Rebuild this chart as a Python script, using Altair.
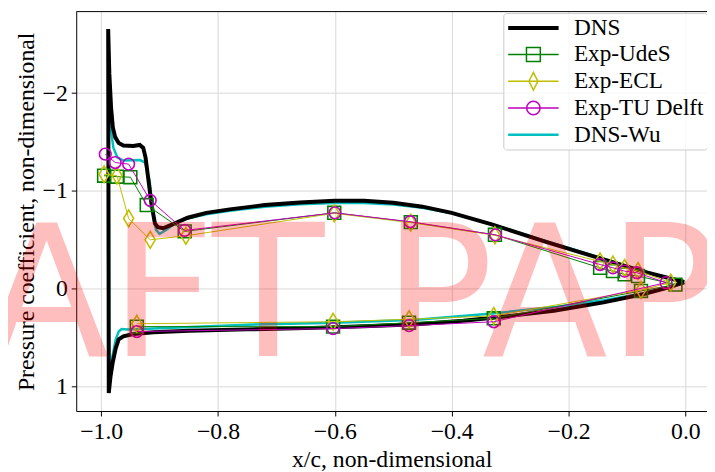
import altair as alt
import pandas as pd

SERIF = "Liberation Serif"

series_names = ["DNS", "Exp-UdeS", "Exp-ECL", "Exp-TU Delft", "DNS-Wu"]
series_colors = ["#000000", "#008000", "#bfbf00", "#bf00bf", "#00bfbf"]
legend_widths = [4, 1.5, 1.5, 1.5, 2.5]
legend_paths = [
    "M-2.55,0H2.55",
    "M-2.55,0H2.55M-0.7,-0.7H0.7V0.7H-0.7Z",
    "M-2.55,0H2.55M0,-0.9L0.45,0L0,0.9L-0.45,0Z",
    "M-2.55,0H2.55M0.68,0A0.68,0.68,0,1,1,-0.68,0A0.68,0.68,0,1,1,0.68,0Z",
    "M-2.55,0H2.55",
]

# DNS: closed loop, lower surface TE->LE, then upper surface LE->TE
dns_x = [-0.002, -0.03, -0.073, -0.14, -0.225, -0.30, -0.38, -0.46, -0.55, -0.65, -0.75, -0.85,
         -0.91, -0.945, -0.962, -0.970, -0.975, -0.980, -0.984, -0.987,
         -0.988, -0.986, -0.983, -0.980, -0.976, -0.970, -0.962, -0.945, -0.934, -0.928,
         -0.924, -0.919, -0.914, -0.908, -0.903, -0.894, -0.874, -0.852, -0.82, -0.78,
         -0.72, -0.66, -0.60, -0.55, -0.50, -0.45, -0.40, -0.33, -0.24, -0.14, -0.073, -0.002]
dns_y = [-0.064, -0.01, 0.058, 0.142, 0.227, 0.28, 0.33, 0.365, 0.385, 0.405, 0.418, 0.432,
         0.447, 0.465, 0.49, 0.52, 0.61, 0.75, 0.90, 1.07,
         -2.656, -2.2, -1.85, -1.65, -1.55, -1.49, -1.465, -1.46, -1.47, -1.44,
         -1.34, -1.105, -0.87, -0.667, -0.627, -0.617, -0.667, -0.725, -0.775, -0.81,
         -0.855, -0.88, -0.898, -0.898, -0.878, -0.838, -0.775, -0.655, -0.48, -0.298, -0.175, -0.067]

# DNS-Wu: closed loop, same ordering
wu_x = [-0.002, -0.073, -0.14, -0.225, -0.33, -0.46, -0.60, -0.75, -0.91, -0.955, -0.965,
        -0.970, -0.975, -0.981, -0.986,
        -0.987, -0.983, -0.979, -0.972, -0.962, -0.933, -0.925, -0.917, -0.914, -0.911,
        -0.906, -0.900, -0.889, -0.872, -0.85, -0.82, -0.78, -0.72, -0.66, -0.60, -0.55,
        -0.50, -0.45, -0.40, -0.33, -0.24, -0.14, -0.073, -0.002]
wu_y = [-0.06, 0.05, 0.12, 0.19, 0.255, 0.32, 0.35, 0.37, 0.41, 0.42, 0.415,
        0.44, 0.52, 0.70, 0.90,
        -1.92, -1.61, -1.44, -1.34, -1.31, -1.315, -1.29, -1.105, -0.94, -0.734,
        -0.60, -0.56, -0.60, -0.674, -0.72, -0.76, -0.795, -0.838, -0.862, -0.876, -0.876,
        -0.86, -0.826, -0.77, -0.655, -0.49, -0.305, -0.18, -0.065]

udes_x = [-0.995, -0.973, -0.950, -0.922, -0.857, -0.601, -0.470, -0.326, -0.146, -0.124,
          -0.104, -0.081, -0.017, -0.076, -0.328, -0.473, -0.603, -0.939]
udes_y = [-1.155, -1.145, -1.14, -0.855, -0.585, -0.775, -0.68, -0.55, -0.212, -0.178,
          -0.145, -0.128, -0.04, 0.025, 0.305, 0.35, 0.39, 0.39]

ecl_x = [-0.995, -0.973, -0.953, -0.916, -0.855, -0.601, -0.470, -0.326, -0.146, -0.124,
         -0.104, -0.081, -0.025, -0.076, -0.328, -0.473, -0.603, -0.939]
ecl_y = [-1.17, -1.156, -0.718, -0.499, -0.54, -0.77, -0.675, -0.545, -0.277, -0.246,
         -0.21, -0.18, -0.06, 0.015, 0.28, 0.315, 0.34, 0.36]

tud_x = [-0.993, -0.976, -0.953, -0.916, -0.857, -0.600, -0.471, -0.325, -0.146, -0.124,
         -0.104, -0.083, -0.033, -0.328, -0.473, -0.603, -0.939]
tud_y = [-1.376, -1.29, -1.274, -0.903, -0.595, -0.775, -0.684, -0.549, -0.246, -0.212,
         -0.178, -0.162, -0.06, 0.34, 0.38, 0.41, 0.44]

x_ticks = [-1.0, -0.8, -0.6, -0.4, -0.2, 0.0]
y_ticks = [-2, -1, 0, 1]
X_DOMAIN = [-1.0427, 0.0370]
Y_DOMAIN = [-2.835, 1.254]
watermark = ["DRAFT PAPER"]


def frame(xs, ys):
    return pd.DataFrame({"x": xs, "y": ys, "i": list(range(len(xs)))})


x_enc = alt.X("x:Q", scale=alt.Scale(domain=X_DOMAIN, nice=False, zero=False),
              axis=alt.Axis(values=x_ticks, format=".1f", title="x/c, non-dimensional",
                            titlePadding=4))
y_enc = alt.Y("y:Q", scale=alt.Scale(domain=Y_DOMAIN, nice=False, zero=False, reverse=True),
              axis=alt.Axis(values=y_ticks, format="d", title="Pressure coefficient, non-dimensional"))


def line_layer(xs, ys, color, width):
    return alt.Chart(frame(xs, ys)).mark_line(color=color, strokeWidth=width, clip=True).encode(
        x=x_enc, y=y_enc, order="i:Q")


def point_layer(xs, ys, color, shape, size):
    return alt.Chart(frame(xs, ys)).mark_point(
        color=color, shape=shape, size=size, filled=False, strokeWidth=1.6, opacity=1, clip=True
    ).encode(x=x_enc, y=y_enc)


DIAMOND = "M0,-1L0.6,0L0,1L-0.6,0Z"

layers = [
    line_layer(wu_x, wu_y, series_colors[4], 2.5),
    line_layer(dns_x, dns_y, series_colors[0], 4),
    line_layer(udes_x, udes_y, series_colors[1], 1),
    point_layer(udes_x, udes_y, series_colors[1], "square", 169),
    line_layer(ecl_x, ecl_y, series_colors[2], 1),
    point_layer(ecl_x, ecl_y, series_colors[2], DIAMOND, 289),
    line_layer(tud_x, tud_y, series_colors[3], 1),
    point_layer(tud_x, tud_y, series_colors[3], "circle", 140),
]

leg = alt.Legend(title=None, orient="none", legendX=432, legendY=1.5, padding=3,
                 fillColor="rgba(255,255,255,0.8)", strokeColor="#cccccc", cornerRadius=3,
                 labelFont=SERIF, labelFontSize=23.5, labelColor="black", labelOffset=29,
                 symbolSize=400, symbolOffset=15.4, rowPadding=2.1, labelLimit=400,
                 symbolOpacity=1)

legend_layer = alt.Chart(pd.DataFrame({"series": series_names})).mark_point(
    filled=False, clip=True).encode(
    x=alt.value(-1000), y=alt.value(-1000),
    color=alt.Color("series:N", scale=alt.Scale(domain=series_names, range=series_colors), legend=leg),
    shape=alt.Shape("series:N", scale=alt.Scale(domain=series_names, range=legend_paths), legend=leg),
    strokeWidth=alt.StrokeWidth("series:N", scale=alt.Scale(type="ordinal", domain=series_names,
                                                             range=legend_widths), legend=leg),
)

top_spine = alt.Chart(pd.DataFrame({"a": [0]})).mark_rule(color="black", strokeWidth=1).encode(
    x=alt.value(0), x2=alt.value("width"), y=alt.value(0))

wm_layer = alt.Chart(pd.DataFrame({"t": watermark})).mark_text(
    font="DejaVu Sans", fontSize=186, color="red", opacity=0.25, align="center",
    baseline="alphabetic").encode(text="t:N", x=alt.value(269), y=alt.value(348))

chart = alt.layer(*layers, legend_layer, top_spine, wm_layer).properties(
    width=638, height=404,
    autosize=alt.AutoSizeParams(type="none"),
    padding={"left": 69, "top": 1, "right": 0, "bottom": 58},
).configure_view(stroke=None).configure_axis(
    labelFont=SERIF, labelFontSize=24, labelColor="black",
    titleFont=SERIF, titleFontSize=24, titleColor="black", titleFontWeight="normal",
    domainColor="black", domainWidth=1, tickColor="black", tickSize=5, tickWidth=1,
    gridColor="#d9d9d9", gridWidth=1, labelPadding=4,
)

chart.save("out.html", embed_options={"renderer": "svg", "actions": False})
